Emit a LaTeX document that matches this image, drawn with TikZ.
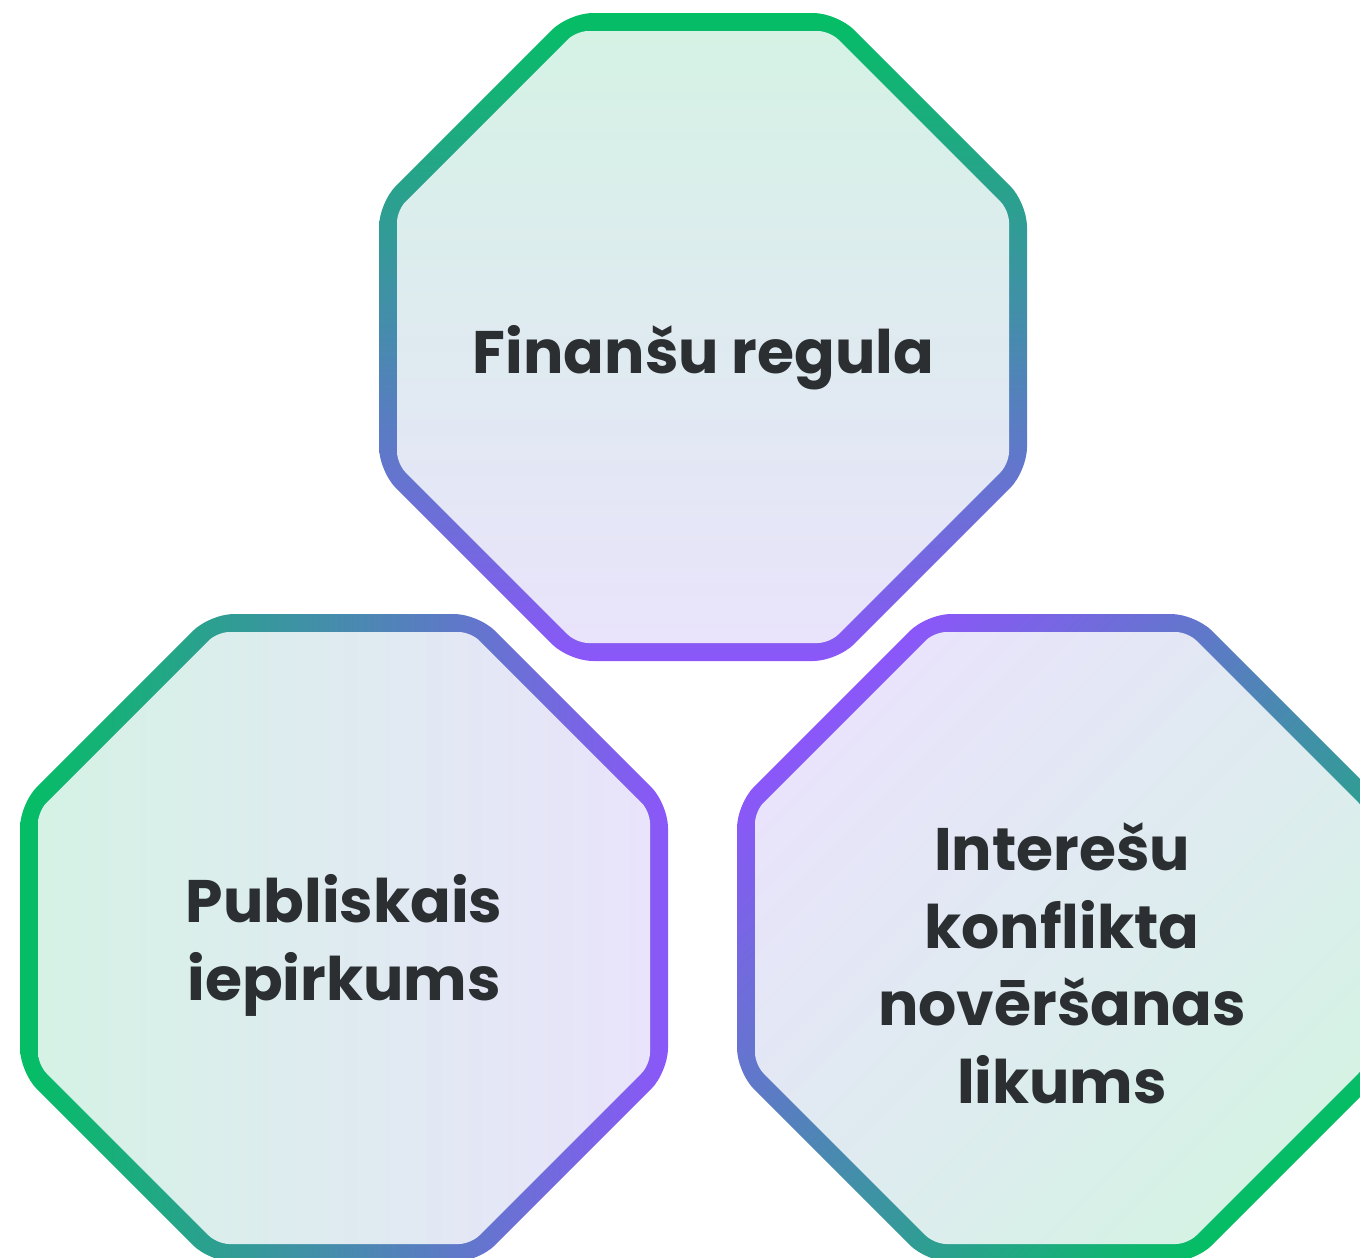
\documentclass[tikz,border=0pt]{standalone}
\usepackage{fontspec}
\newfontfamily\popfont{Poppins}
\definecolor{grn}{RGB}{4,190,100}
\definecolor{prp}{RGB}{139,87,249}
\definecolor{lgrn}{RGB}{213,242,229}
\definecolor{lprp}{RGB}{233,227,251}
\definecolor{txt}{RGB}{43,47,50}
\tikzset{
  x=1pt, y=-1pt,
  octpath/.style n args={3}{insert path={
    ({#1},{#2-#3}) -- ({#1+0.41421*#3},{#2-#3}) -- ({#1+#3},{#2-0.41421*#3})
    -- ({#1+#3},{#2+0.41421*#3}) -- ({#1+0.41421*#3},{#2+#3})
    -- ({#1-0.41421*#3},{#2+#3}) -- ({#1-#3},{#2+0.41421*#3})
    -- ({#1-#3},{#2-0.41421*#3}) -- ({#1-0.41421*#3},{#2-#3}) -- cycle}},
  label/.style={align=center, text=txt, anchor=base,
    font=\popfont\bfseries\fontsize{60}{77.5}\selectfont}
}
\begin{document}
\begin{tikzpicture}
\useasboundingbox (0,0) rectangle (1360,1258);
\clip (0,0) rectangle (1360,1258);
% top octagon: vertical gradient
\shade[top color=grn, bottom color=prp, rounded corners=24] [octpath={703}{337}{324}];
\shade[top color=lgrn, bottom color=lprp, rounded corners=12] [octpath={703}{337}{306}];
% bottom-left octagon: horizontal gradient
\shade[left color=grn, right color=prp, rounded corners=24] [octpath={344}{938}{324}];
\shade[left color=lgrn, right color=lprp, rounded corners=12] [octpath={344}{938}{306}];
% bottom-right octagon: diagonal gradient
\shade[top color=prp, bottom color=grn, shading angle=45, rounded corners=24] [octpath={1061}{938}{324}];
\shade[top color=lprp, bottom color=lgrn, shading angle=45, rounded corners=12] [octpath={1061}{938}{306}];
\node[label] (fin) at (703.5,373) {Finanšu regula};
\node[label] (pub) at (344,1000) {Publiskais\\iepirkums};
\node[label] (int) at (1062,1103) {Interešu\\konflikta\\novēršanas\\likums};
\end{tikzpicture}
\end{document}
